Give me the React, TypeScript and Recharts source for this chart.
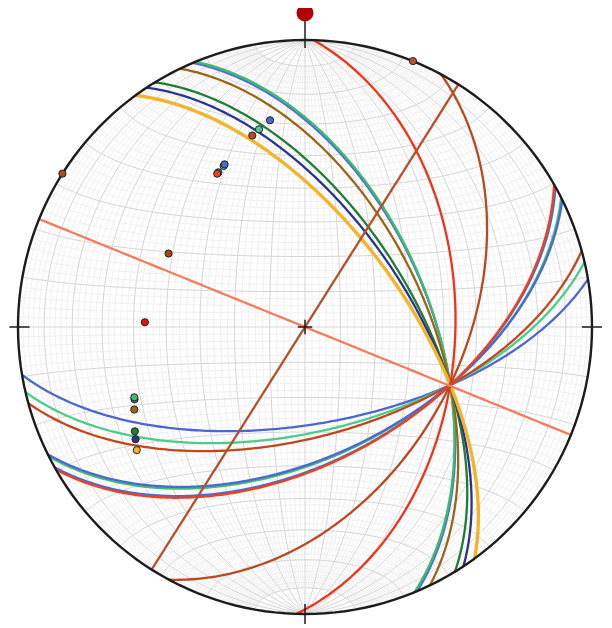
import { ComposedChart, Line, Scatter, XAxis, YAxis } from "recharts";

const deg = Math.PI / 180;

const planeNames = [
  "A1 blue", "A1 green", "A2", "A3", "A4", "A5",
  "B1", "B2", "B3", "B4 green", "B4 blue", "B5", "B6",
  "C1", "C2", "V1", "V2",
];
const planeDipDirs = [67.0, 67.6, 64.2, 58.5, 56.5, 53.8, 170.4, 166.9, 164.6, 153.2, 153.7, 150.75, 150.2, 91.7, 118.3, 202.1, 122.3];
const planeDips = [54.3, 54.1, 55.7, 58.9, 60.1, 61.8, 62.2, 60.0, 58.6, 52.8, 53.1, 51.8, 51.6, 46.5, 44.9, 90, 90];

// order the poles are stacked in (last one on top)
const poleOrder = [0, 1, 2, 3, 4, 5, 6, 7, 8, 9, 10, 11, 12, 13, 14, 15, 16];

// net spacing
const minorStep = 2;
const majorStep = 10;

const planeColors: Record<string, string> = {
  "A1 blue": "#4d6fd6",
  "A1 green": "#3dbb6e",
  A2: "#9c6415",
  A3: "#1f7d32",
  A4: "#27358f",
  A5: "#f2b42a",
  B1: "#4a68d0",
  B2: "#4ccc8a",
  B3: "#c2461e",
  "B4 green": "#3fbf73",
  "B4 blue": "#4a6ad2",
  B5: "#4a6ad2",
  B6: "#f0401c",
  C1: "#f03218",
  C2: "#b84a22",
  V1: "#f47c5c",
  V2: "#b5502a",
};
const poleColors: Record<string, string> = {
  C1: "#e01010",
  C2: "#b5400f",
  V1: "#c0502c",
  V2: "#b04818",
};

type Pt = { x: number; y: number | null };

function project(e: number, n: number, d: number): Pt {
  const k = 1 / Math.sqrt(1 + d);
  return { x: e * k, y: n * k };
}

function planeCurve(dd: number, dip: number, t0 = 0, t1 = 180, step = 1): Pt[] {
  const sa = (dd - 90) * deg;
  const da = dd * deg;
  const di = dip * deg;
  const s = [Math.sin(sa), Math.cos(sa), 0];
  const v = [Math.cos(di) * Math.sin(da), Math.cos(di) * Math.cos(da), Math.sin(di)];
  const pts: Pt[] = [];
  for (let t = t0; t <= t1 + 1e-9; t += step) {
    const c = Math.cos(t * deg);
    const sn = Math.sin(t * deg);
    pts.push(project(c * s[0] + sn * v[0], c * s[1] + sn * v[1], Math.max(0, c * s[2] + sn * v[2])));
  }
  return pts;
}

// small circle about the N-S axis
function latitude(alpha: number, step = 2): Pt[] {
  const a = alpha * deg;
  const pts: Pt[] = [];
  for (let p = 0; p <= 180; p += step) {
    const ph = p * deg;
    pts.push(project(Math.sin(a) * Math.cos(ph), Math.cos(a), Math.sin(a) * Math.sin(ph)));
  }
  return pts;
}

function join(paths: Pt[][]): Pt[] {
  const out: Pt[] = [];
  paths.forEach((p, i) => {
    if (i) out.push({ x: 0, y: null });
    out.push(...p);
  });
  return out;
}

const minorPaths: Pt[][] = [];
const majorPaths: Pt[][] = [];
for (let a = minorStep; a < 90; a += minorStep) {
  const major = a % majorStep === 0;
  for (const dd of [90, 270]) {
    if (major) majorPaths.push(planeCurve(dd, a, 0, 180, 2));
    else minorPaths.push(planeCurve(dd, a, 10, 170, 2));
  }
}
majorPaths.push(planeCurve(90, 90, 0, 180, 90));
for (let a = minorStep; a < 180; a += minorStep) {
  if (a % majorStep === 0) majorPaths.push(latitude(a));
  else minorPaths.push(latitude(a));
}
const minorGrid = join(minorPaths);
const majorGrid = join(majorPaths);

const primitive: Pt[] = [];
for (let t = 0; t <= 360; t += 2) primitive.push({ x: Math.sin(t * deg), y: Math.cos(t * deg) });

const ticks = join([
  [{ x: 0, y: 1.07 }, { x: 0, y: 0.972 }],
  [{ x: 0, y: -0.965 }, { x: 0, y: -1.035 }],
  [{ x: -1.03, y: 0 }, { x: -0.96, y: 0 }],
  [{ x: 0.965, y: 0 }, { x: 1.035, y: 0 }],
  [{ x: -0.025, y: 0 }, { x: 0.025, y: 0 }],
  [{ x: 0, y: -0.025 }, { x: 0, y: 0.025 }],
]);

const poles = poleOrder.map((i) => {
  const name = planeNames[i];
  const tr = (planeDipDirs[i] + 180) * deg;
  const pl = (90 - planeDips[i]) * deg;
  const p = project(Math.cos(pl) * Math.sin(tr), Math.cos(pl) * Math.cos(tr), Math.sin(pl));
  return { ...p, color: poleColors[name] ?? planeColors[name] };
});

const northMarker = [{ x: 0, y: 1.094 }];

const W = 600;
const H = 616;
const R = 287;
const cx = 297;
const cy = 319;
const xDomain: [number, number] = [-cx / R, (W - cx) / R];
const yDomain: [number, number] = [-(H - cy) / R, cy / R];

const PoleDot = (props: any) => (
  <circle cx={props.cx} cy={props.cy} r={3.6} fill={props.payload.color} stroke="#222" strokeWidth={1} />
);
const NorthDot = (props: any) => <circle cx={props.cx} cy={props.cy} r={8.5} fill="#b00000" />;

export default function App() {
  return (
    <ComposedChart width={W} height={H} margin={{ top: 0, right: 0, bottom: 0, left: 0 }}>
      <XAxis type="number" dataKey="x" domain={xDomain} allowDataOverflow hide />
      <YAxis type="number" dataKey="y" domain={yDomain} allowDataOverflow hide />
      <Line data={minorGrid} dataKey="y" stroke="#f1f1f1" strokeWidth={1} dot={false} activeDot={false} connectNulls={false} isAnimationActive={false} />
      <Line data={majorGrid} dataKey="y" stroke="#d6d6d6" strokeWidth={1} dot={false} activeDot={false} connectNulls={false} isAnimationActive={false} />
      {planeNames.map((name, i) => (
        <Line
          key={name}
          data={planeCurve(planeDipDirs[i], planeDips[i])}
          dataKey="y"
          stroke={planeColors[name]}
          strokeWidth={name === "A5" ? 3.4 : 2.3}
          dot={false}
          activeDot={false}
          isAnimationActive={false}
        />
      ))}
      <Line data={primitive} dataKey="y" stroke="#1c1c1c" strokeWidth={2.4} dot={false} activeDot={false} isAnimationActive={false} />
      <Line data={ticks} dataKey="y" stroke="#1c1c1c" strokeWidth={1.5} dot={false} activeDot={false} connectNulls={false} isAnimationActive={false} />
      <Scatter data={poles} shape={PoleDot} isAnimationActive={false} />
      <Scatter data={northMarker} shape={NorthDot} isAnimationActive={false} />
    </ComposedChart>
  );
}
